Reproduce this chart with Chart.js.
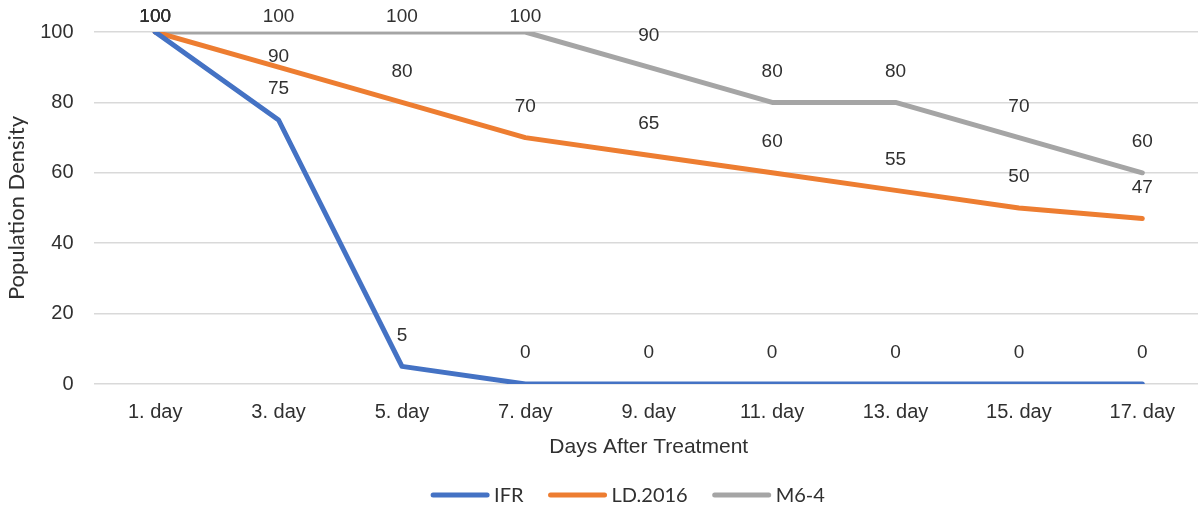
<!DOCTYPE html>
<html>
<head>
<meta charset="utf-8">
<script src="https://cdn.jsdelivr.net/npm/chart.js@4/dist/chart.umd.min.js"></script>
<style>
  html, body { margin: 0; padding: 0; background: #fff; overflow: hidden; }
  #wrap { position: relative; width: 1206px; height: 507px; }
</style>
</head>
<body>
<div id="wrap"><canvas id="chart"></canvas></div>
<script>
// Chart data
const days = ["1. day", "3. day", "5. day", "7. day", "9. day", "11. day", "13. day", "15. day", "17. day"];
const ifr    = [100, 75, 5, 0, 0, 0, 0, 0, 0];
const ld2016 = [100, 90, 80, 70, 65, 60, 55, 50, 47];
const m64    = [100, 100, 100, 100, 90, 80, 80, 70, 60];
const yTicks = [0, 20, 40, 60, 80, 100];

const textColor = "#303030";

// value labels above each point (Excel-style "above" labels)
const pointLabels = {
  id: "pointLabels",
  afterDatasetsDraw(chart, args, opts) {
    const ctx = chart.ctx;
    ctx.save();
    ctx.font = "19px 'Liberation Sans', Arial, sans-serif";
    ctx.fillStyle = textColor;
    ctx.textAlign = "center";
    ctx.textBaseline = "middle";
    chart.data.datasets.forEach((ds, di) => {
      const meta = chart.getDatasetMeta(di);
      meta.data.forEach((pt, i) => {
        let y = Math.max(pt.y - 31, 17);
        const nudge = (opts.nudges || []).find(n => n.ds === di && n.i === i);
        if (nudge) y += nudge.dy;
        ctx.fillText(String(ds.data[i]), pt.x, y);
      });
    });
    ctx.restore();
  }
};

// legend drawn with fixed gaps like the original
const lineLegend = {
  id: "lineLegend",
  afterDraw(chart, args, opts) {
    const ctx = chart.ctx;
    ctx.save();
    ctx.font = "20px Lato, sans-serif";
    const lineLen = 58, gapText = 5, gapItem = 25;
    const items = chart.data.datasets.map(ds => ({ label: ds.label, color: ds.borderColor, w: ctx.measureText(ds.label).width }));
    const total = items.reduce((s, it) => s + lineLen + gapText + it.w, 0) + gapItem * (items.length - 1);
    let x = opts.centerX - total / 2;
    const y = opts.y;
    items.forEach(it => {
      ctx.strokeStyle = it.color;
      ctx.lineWidth = 5;
      ctx.lineCap = "round";
      ctx.beginPath();
      ctx.moveTo(x + 2, y);
      ctx.lineTo(x + lineLen - 2, y);
      ctx.stroke();
      x += lineLen + gapText;
      ctx.fillStyle = textColor;
      ctx.textAlign = "left";
      ctx.textBaseline = "middle";
      ctx.fillText(it.label, x, y + 1);
      x += it.w + gapItem;
    });
    ctx.restore();
  }
};

function series(label, data, color) {
  return {
    label: label,
    data: data,
    borderColor: color,
    backgroundColor: color,
    borderWidth: 5,
    borderJoinStyle: "round",
    borderCapStyle: "round",
    pointRadius: 0,
    tension: 0
  };
}

new Chart(document.getElementById("chart"), {
  type: "line",
  data: {
    labels: days,
    datasets: [
      series("IFR", ifr, "#4472C4"),
      series("LD.2016", ld2016, "#ED7D31"),
      series("M6-4", m64, "#A5A5A5")
    ]
  },
  plugins: [pointLabels, lineLegend],
  options: {
    responsive: true,
    maintainAspectRatio: false,
    animation: false,
    layout: { padding: { top: 29, right: 2, bottom: 47, left: 0 } },
    plugins: {
      legend: { display: false },
      tooltip: { enabled: false },
      pointLabels: { nudges: [{ ds: 1, i: 1, dy: 21 }] },
      lineLegend: { centerX: 628, y: 495 }
    },
    scales: {
      x: {
        offset: true,
        grid: { display: false, drawTicks: false, offset: true },
        border: { display: false },
        ticks: {
          color: textColor,
          font: { family: "'Liberation Sans', Arial, sans-serif", size: 20 },
          padding: 16,
          maxRotation: 0,
          autoSkip: false
        },
        title: {
          display: true,
          text: "Days After Treatment",
          color: textColor,
          font: { family: "'Liberation Sans', Arial, sans-serif", size: 21 },
          padding: { top: 8, bottom: 0 }
        },
        afterFit(scale) { scale.height = 76; }
      },
      y: {
        min: 0,
        max: 100,
        afterBuildTicks(scale) { scale.ticks = yTicks.map(v => ({ value: v })); },
        grid: { color: "#D9D9D9", lineWidth: 1.5, drawTicks: false },
        border: { display: false },
        ticks: {
          color: textColor,
          font: { family: "'Liberation Sans', Arial, sans-serif", size: 20 },
          padding: 20
        },
        title: {
          display: true,
          text: "Population Density",
          color: textColor,
          font: { family: "Lato, sans-serif", size: 22 },
          padding: { top: 4, bottom: 0 }
        },
        afterFit(scale) { scale.width = 93.5; }
      }
    }
  }
});
</script>
</body>
</html>
